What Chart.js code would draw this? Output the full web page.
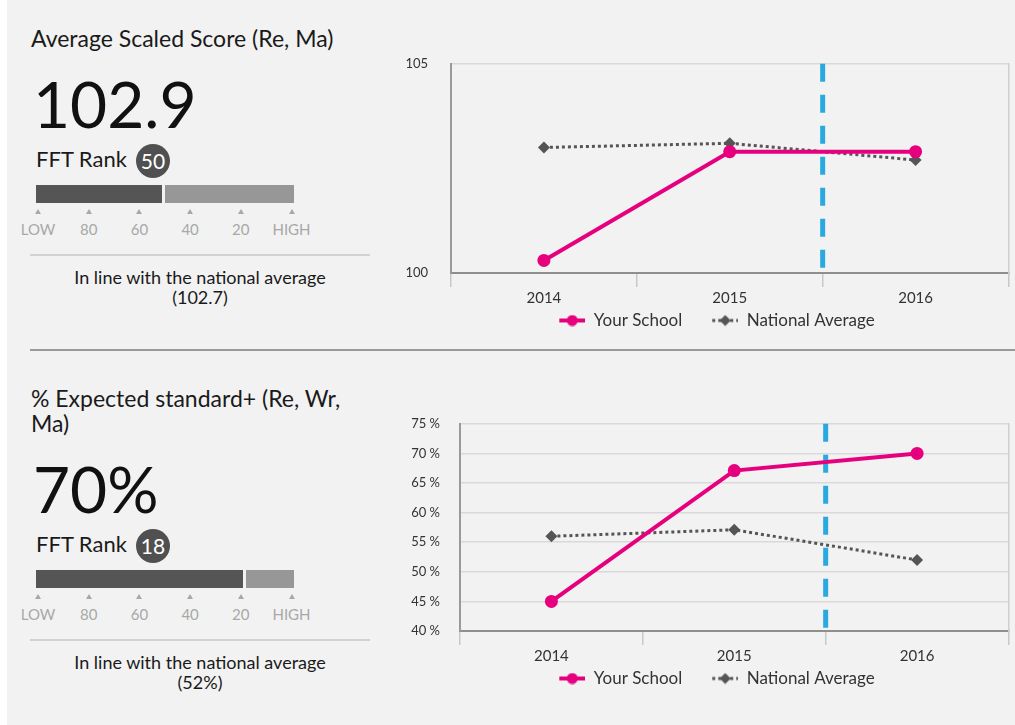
<!DOCTYPE html>
<html>
<head>
<meta charset="utf-8">
<script src="https://cdn.jsdelivr.net/npm/chart.js@4"></script>
<style>
    html, body { margin: 0; padding: 0; background: #fff; }
    body { width: 1015px; height: 725px; position: relative; overflow: hidden; font-family: Lato, "Noto Sans", sans-serif; color: #1a1a1a; }
    #panel { position: absolute; left: 7px; top: 0; width: 1008px; height: 725px; background: #f2f2f2; }
    .abs { position: absolute; white-space: nowrap; line-height: 1; }
    .title { font-size: 23px; left: 31px; }
    .big { font-size: 64px; left: 33px; color: #111; }
    .rank { font-size: 22px; left: 36px; }
    .badge { position: absolute; width: 34px; height: 34px; border-radius: 50%; background: #505050; color: #fff; font-size: 21px; line-height: 34px; text-align: center; }
    .bar { position: absolute; height: 18px; }
    .tri { position: absolute; width: 0; height: 0; border-left: 3px solid transparent; border-right: 3px solid transparent; border-bottom: 5px solid #a8a8a8; }
    .tlab { position: absolute; font-size: 15px; line-height: 1; color: #a8a8a8; transform: translateX(-50%); }
    .sep { position: absolute; left: 30px; width: 340px; height: 2px; background: #d2d2d2; }
    .note { position: absolute; left: 30px; width: 340px; text-align: center; font-size: 18px; line-height: 20px; color: #1a1a1a; }
    .chartBox { position: absolute; left: 395px; width: 620px; }
</style>
</head>
<body>
<div id="panel"></div>
<div id="left"></div>
<div class="chartBox" style="top:33px;height:306px"><canvas id="c1"></canvas></div>
<div style="position:absolute;left:30px;top:349px;width:985px;height:2px;background:#9a9a9a"></div>
<div class="chartBox" style="top:396px;height:301px"><canvas id="c2"></canvas></div>
<script>
const years = ["2014", "2015", "2016"];

const scoreSchool = [100.3, 102.9, 102.9];
const scoreNational = [103.0, 103.1, 102.7];

const expectedSchool = [45, 67.1, 70];
const expectedNational = [56, 57.1, 52];

const headlines = ["102.9", "70%"];
const titles = [["Average Scaled Score (Re, Ma)"], ["% Expected standard+ (Re, Wr,", "Ma)"]];
const ranks = [50, 18];
const rankLabels = ["LOW", "80", "60", "40", "20", "HIGH"];
const notes = [["In line with the national average", "(102.7)"], ["In line with the national average", "(52%)"]];

const PINK = "#e6007e";
const GREY = "#555555";
const BLUE = "#2aa9e0";

// left hand side summaries
const left = document.getElementById("left");
function add(html) { left.insertAdjacentHTML("beforeend", html); }

[0, 1].forEach(i => {
    const off = i * 385;
    const t = titles[i];
    if (t.length === 1) {
        add(`<div class="abs title" style="top:27px">${t[0]}</div>`);
    } else {
        add(`<div class="abs title" style="top:${off - 25 + 27}px">${t[0]}</div>`);
        add(`<div class="abs title" style="top:${off + 27}px">${t[1]}</div>`);
    }
    add(`<div class="abs big" style="top:${off + 72}px">${headlines[i]}</div>`);
    add(`<div class="abs rank" style="top:${off + 148}px">FFT Rank</div>`);
    add(`<div class="badge" style="left:136px;top:${off + 144}px">${ranks[i]}</div>`);
    const dark = Math.round((100 - ranks[i]) * 2.53);
    add(`<div class="bar" style="left:36px;top:${off + 185}px;width:${dark}px;background:#555"></div>`);
    add(`<div class="bar" style="left:${36 + dark + 3}px;top:${off + 185}px;width:${294 - 36 - dark - 3}px;background:#979797"></div>`);
    rankLabels.forEach((lab, k) => {
        const x = 38 + k * 50.7;
        add(`<div class="tri" style="left:${x - 3}px;top:${off + 209}px"></div>`);
        add(`<div class="tlab" style="left:${x}px;top:${off + 222}px">${lab}</div>`);
    });
    add(`<div class="sep" style="top:${off + 254}px"></div>`);
    add(`<div class="note" style="top:${off + 267}px">${notes[i][0]}<br>${notes[i][1]}</div>`);
});

// legend icons: short line with the series marker, drawn at the right of a wider box
const ICON_W = 53, ICON_VIS = 26;
function icon(kind) {
    const c = document.createElement("canvas");
    c.width = ICON_W; c.height = 12;
    const g = c.getContext("2d");
    const x0 = ICON_W - ICON_VIS, xm = x0 + ICON_VIS / 2;
    if (kind === "school") {
        g.strokeStyle = PINK; g.lineWidth = 4;
        g.beginPath(); g.moveTo(x0, 6); g.lineTo(ICON_W, 6); g.stroke();
        g.fillStyle = PINK;
        g.beginPath(); g.arc(xm, 6, 5.5, 0, Math.PI * 2); g.fill();
    } else {
        g.strokeStyle = GREY; g.lineWidth = 3; g.setLineDash([3, 3]);
        g.beginPath(); g.moveTo(x0, 6); g.lineTo(ICON_W, 6); g.stroke();
        g.fillStyle = GREY;
        g.beginPath(); g.moveTo(xm, 0.5); g.lineTo(xm + 5.5, 6); g.lineTo(xm, 11.5); g.lineTo(xm - 5.5, 6); g.closePath(); g.fill();
    }
    return c;
}
const icons = [icon("school"), icon("national")];

const splitLine = {
    id: "splitLine",
    beforeDatasetsDraw(chart) {
        const { ctx, chartArea, scales: { x } } = chart;
        const px = (x.getPixelForValue(1) + x.getPixelForValue(2)) / 2;
        ctx.save();
        ctx.strokeStyle = BLUE;
        ctx.lineWidth = 5;
        ctx.setLineDash([18, 13]);
        ctx.beginPath();
        ctx.moveTo(px, chartArea.top);
        ctx.lineTo(px, chartArea.bottom - 3);
        ctx.stroke();
        ctx.restore();
    }
};

Chart.defaults.font.family = "Lato, 'Noto Sans', sans-serif";
Chart.defaults.color = "#333";

function makeChart(id, school, national, yOpts, yWidth, yPad) {
    return new Chart(document.getElementById(id), {
        type: "line",
        data: {
            labels: years,
            datasets: [
                {
                    label: "Your School", data: school,
                    borderColor: PINK, backgroundColor: PINK, borderWidth: 4,
                    pointRadius: 6.5, pointHoverRadius: 6.5, pointBackgroundColor: PINK, pointBorderWidth: 0
                },
                {
                    label: "National Average", data: national,
                    borderColor: GREY, backgroundColor: GREY, borderWidth: 3, borderDash: [3, 3],
                    pointStyle: "rectRot", pointRadius: 6, pointHoverRadius: 6, pointBackgroundColor: GREY, pointBorderWidth: 0
                }
            ]
        },
        options: {
            responsive: true,
            maintainAspectRatio: false,
            animation: false,
            layout: { padding: { top: 4, right: 3 } },
            plugins: {
                tooltip: { enabled: false },
                legend: {
                    position: "bottom",
                    labels: {
                        usePointStyle: true,
                        pointStyleWidth: ICON_W,
                        padding: 3,
                        font: { size: 17 },
                        color: "#333",
                        generateLabels: chart => chart.data.datasets.map((ds, i) => ({
                            text: ds.label, pointStyle: icons[i], datasetIndex: i,
                            fillStyle: ds.borderColor, strokeStyle: ds.borderColor, lineWidth: 0, hidden: false, fontColor: "#333"
                        }))
                    }
                }
            },
            scales: {
                x: {
                    offset: true,
                    grid: { offset: true, drawOnChartArea: false, tickLength: 14, color: "#c8c8c8", lineWidth: 1.5 },
                    border: { color: "#8e8e8e", width: 2 },
                    ticks: { font: { size: 15 }, color: "#333", padding: 2 }
                },
                y: {
                    ...yOpts,
                    afterFit: s => { s.width = yWidth; },
                    grid: { drawTicks: false, color: "#d9d9d9", lineWidth: 1.5 },
                    border: { color: "#9a9a9a", width: 2 },
                    ticks: { ...yOpts.ticks, font: { size: 13 }, color: "#333", padding: yPad }
                },
                edge: {
                    position: "right",
                    display: true,
                    afterFit: s => { s.width = 0; },
                    grid: { display: false },
                    ticks: { display: false },
                    border: { color: "#cfcfcf", width: 1.5 }
                }
            }
        },
        plugins: [splitLine]
    });
}

makeChart("c1", scoreSchool, scoreNational,
    { min: 100, max: 105, ticks: { stepSize: 5 } }, 56, 23);
makeChart("c2", expectedSchool, expectedNational,
    { min: 40, max: 75, ticks: { stepSize: 5, callback: v => v + " %" } }, 65, 20);
</script>
</body>
</html>
